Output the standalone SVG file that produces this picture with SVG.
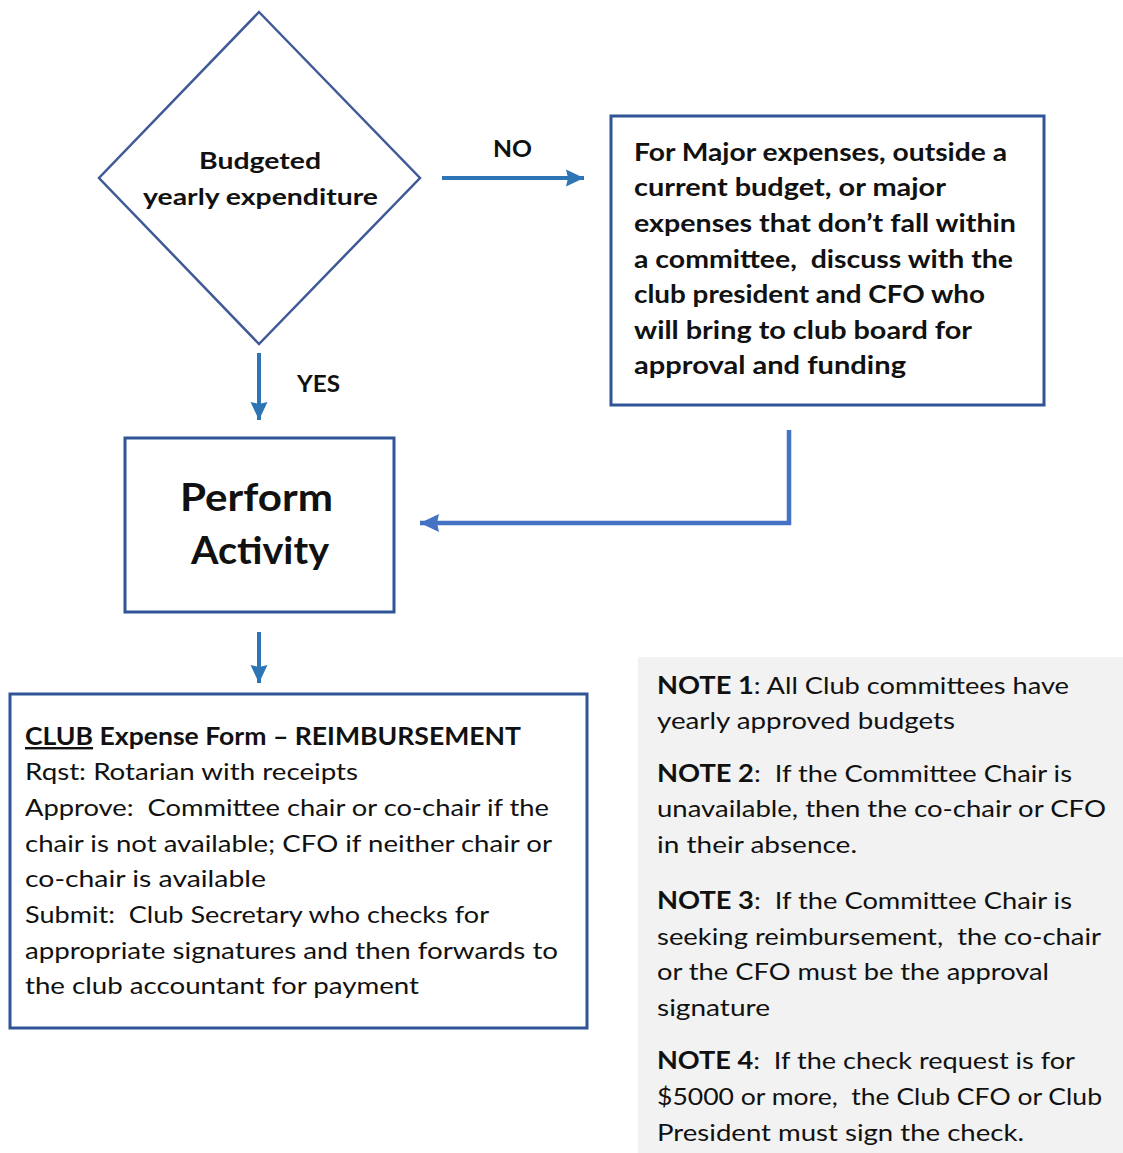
<svg xmlns="http://www.w3.org/2000/svg" width="1123" height="1153" viewBox="0 0 1123 1153">
<style>
.box{fill:#fff;stroke:#2F5597;stroke-width:3}
.t{font-family:Lato,"Liberation Sans",Arial,sans-serif;fill:#111}
.b{font-weight:bold}
.lbl{font-size:22px;font-weight:bold}
.conn{fill:none;stroke:#2E75B6;stroke-width:4}
.conn2{fill:none;stroke:#4472C4;stroke-width:4.5}
</style>
<defs>
<marker id="ah" markerUnits="userSpaceOnUse" markerWidth="20" markerHeight="20" refX="18" refY="9" orient="auto">
<path d="M0,0.5 L18,9 L0,17.5 L2,9 Z" fill="#2E75B6"/>
</marker>
<marker id="ah2" markerUnits="userSpaceOnUse" markerWidth="22" markerHeight="22" refX="19" refY="9" orient="auto">
<path d="M0,0 L19,9 L0,18 L2,9 Z" fill="#4472C4"/>
</marker>
</defs>
<g id="connectors">
<line class="conn" x1="442" y1="178" x2="584" y2="178" marker-end="url(#ah)"/>
<line class="conn" x1="259" y1="353" x2="259" y2="420" marker-end="url(#ah)"/>
<line class="conn" x1="259" y1="632" x2="259" y2="683" marker-end="url(#ah)"/>
<polyline class="conn2" points="789,430 789,523 420,523" marker-end="url(#ah2)"/>
<text class="t lbl" x="493" y="157" textLength="39" lengthAdjust="spacingAndGlyphs">NO</text>
<text class="t lbl" x="297" y="392" textLength="43" lengthAdjust="spacingAndGlyphs">YES</text>
</g>
<g id="decision">
<polygon points="259,12 420,178 259,344 99,178" fill="#fff" stroke="#3F5A96" stroke-width="2.5"/>
<text class="t b" font-size="23" x="199" y="169" textLength="122" lengthAdjust="spacingAndGlyphs">Budgeted</text>
<text class="t b" font-size="23" x="143" y="205" textLength="235" lengthAdjust="spacingAndGlyphs">yearly expenditure</text>
</g>
<g id="major-expenses">
<rect class="box" x="611" y="116" width="433" height="289"/>
<g class="t b" font-size="24">
<text x="634" y="161" textLength="373" lengthAdjust="spacingAndGlyphs">For Major expenses, outside a</text>
<text x="634" y="196" textLength="312" lengthAdjust="spacingAndGlyphs">current budget, or major</text>
<text x="634" y="232" textLength="382" lengthAdjust="spacingAndGlyphs">expenses that don’t fall within</text>
<text x="634" y="268" textLength="379" lengthAdjust="spacingAndGlyphs" xml:space="preserve">a committee,  discuss with the</text>
<text x="634" y="303" textLength="351" lengthAdjust="spacingAndGlyphs">club president and CFO who</text>
<text x="634" y="339" textLength="338" lengthAdjust="spacingAndGlyphs">will bring to club board for</text>
<text x="634" y="374" textLength="272" lengthAdjust="spacingAndGlyphs">approval and funding</text>
</g>
</g>
<g id="perform-activity">
<rect class="box" x="125" y="438" width="269" height="174"/>
<text class="t b" font-size="38" x="180" y="511" textLength="153" lengthAdjust="spacingAndGlyphs">Perform</text>
<text class="t b" font-size="38" x="191" y="564" textLength="138" lengthAdjust="spacingAndGlyphs">Activity</text>
</g>
<g id="expense-form">
<rect class="box" x="10" y="694" width="577" height="334"/>
<g class="t" font-size="24">
<text class="b" x="25" y="745" textLength="496" lengthAdjust="spacingAndGlyphs"><tspan text-decoration="underline">CLUB</tspan> Expense Form – REIMBURSEMENT</text>
<text x="25" y="780" textLength="333" lengthAdjust="spacingAndGlyphs">Rqst: Rotarian with receipts</text>
<text x="25" y="816" textLength="524" lengthAdjust="spacingAndGlyphs" xml:space="preserve">Approve:  Committee chair or co-chair if the</text>
<text x="25" y="852" textLength="527" lengthAdjust="spacingAndGlyphs">chair is not available; CFO if neither chair or</text>
<text x="25" y="887" textLength="241" lengthAdjust="spacingAndGlyphs">co-chair is available</text>
<text x="25" y="923" textLength="464" lengthAdjust="spacingAndGlyphs" xml:space="preserve">Submit:  Club Secretary who checks for</text>
<text x="25" y="959" textLength="533" lengthAdjust="spacingAndGlyphs">appropriate signatures and then forwards to</text>
<text x="25" y="994" textLength="394" lengthAdjust="spacingAndGlyphs">the club accountant for payment</text>
</g>
</g>
<g id="notes">
<rect x="638" y="657" width="485" height="496" fill="#F2F2F2"/>
<g class="t" font-size="24">
<text x="657" y="694" textLength="412" lengthAdjust="spacingAndGlyphs"><tspan class="b">NOTE 1</tspan>: All Club committees have</text>
<text x="657" y="729" textLength="298" lengthAdjust="spacingAndGlyphs">yearly approved budgets</text>
<text x="657" y="782" textLength="415" lengthAdjust="spacingAndGlyphs" xml:space="preserve"><tspan class="b">NOTE 2</tspan>:  If the Committee Chair is</text>
<text x="657" y="817" textLength="449" lengthAdjust="spacingAndGlyphs">unavailable, then the co-chair or CFO</text>
<text x="657" y="853" textLength="200" lengthAdjust="spacingAndGlyphs">in their absence.</text>
<text x="657" y="909" textLength="415" lengthAdjust="spacingAndGlyphs" xml:space="preserve"><tspan class="b">NOTE 3</tspan>:  If the Committee Chair is</text>
<text x="657" y="945" textLength="444" lengthAdjust="spacingAndGlyphs" xml:space="preserve">seeking reimbursement,  the co-chair</text>
<text x="657" y="980" textLength="392" lengthAdjust="spacingAndGlyphs">or the CFO must be the approval</text>
<text x="657" y="1016" textLength="113" lengthAdjust="spacingAndGlyphs">signature</text>
<text x="657" y="1069" textLength="418" lengthAdjust="spacingAndGlyphs" xml:space="preserve"><tspan class="b">NOTE 4</tspan>:  If the check request is for</text>
<text x="657" y="1105" textLength="445" lengthAdjust="spacingAndGlyphs" xml:space="preserve">$5000 or more,  the Club CFO or Club</text>
<text x="657" y="1141" textLength="367" lengthAdjust="spacingAndGlyphs">President must sign the check.</text>
</g>
</g>
</svg>
